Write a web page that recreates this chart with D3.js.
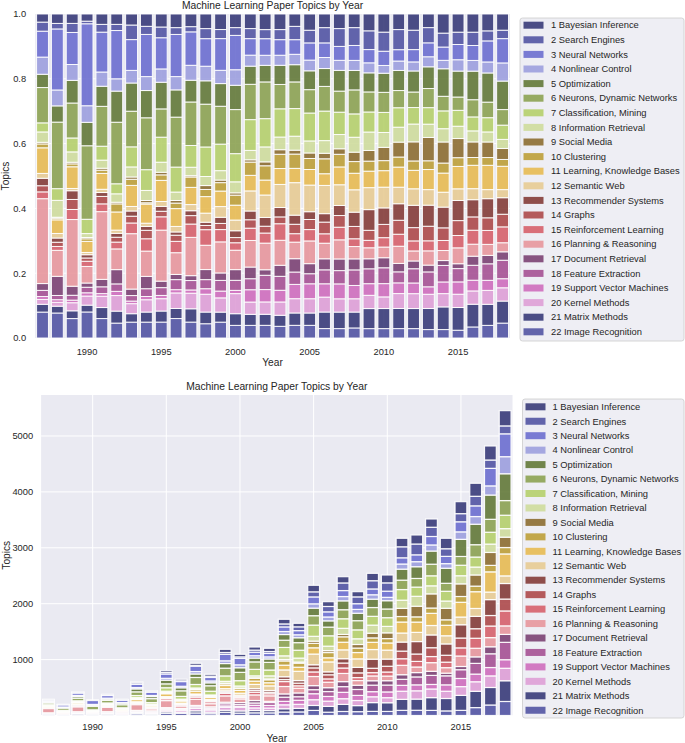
<!DOCTYPE html>
<html><head><meta charset="utf-8">
<script src="https://cdn.jsdelivr.net/npm/d3@7"></script>
<style>
body{margin:0;background:#fff;}
svg{display:block;font-family:"Liberation Sans",Arial,Helvetica,sans-serif;}
</style></head><body>
<svg id="chart" width="685" height="743"></svg>
<script>
// ---------------- DATA ----------------
const years = [1987,1988,1989,1990,1991,1992,1993,1994,1995,1996,1997,1998,1999,2000,2001,2002,
               2003,2004,2005,2006,2007,2008,2009,2010,2011,2012,2013,2014,2015,2016,2017,2018];
const tickYears = [1990,1995,2000,2005,2010,2015];
const topics = ["1 Bayesian Inference","2 Search Engines","3 Neural Networks","4 Nonlinear Control",
  "5 Optimization","6 Neurons, Dynamic Networks","7 Classification, Mining","8 Information Retrieval",
  "9 Social Media","10 Clustering","11 Learning, Knowledge Bases","12 Semantic Web",
  "13 Recommender Systems","14 Graphs","15 Reinforcement Learning","16 Planning & Reasoning",
  "17 Document Retrieval","18 Feature Extraction","19 Support Vector Machines","20 Kernel Methods",
  "21 Matrix Methods","22 Image Recognition"];
// total number of topic assignments per year (bottom panel)
const totals = [290,200,426,277,379,290,605,444,801,648,934,737,1184,1095,1225,1202,
                1721,1649,2329,2036,2483,2215,2543,2513,3170,3229,3515,3170,3825,4154,4821,5453];
// share of each topic per year, in percent (top panel)
const bayesian      = [2.5,2.9,2.9,2.2,3.2,3.2,3.4,3.8,4.0,4.2,3.9,4.5,4.8,4.2,4.5,4.8,4.8,3.8,5.0,4.2,4.5,4.2,5.2,5.6,4.8,5.0,4.2,5.9,5.6,5.6,5.2,5.0];
const searchEngines = [2.8,1.7,2.8,0.8,2.4,1.9,4.5,2.5,3.3,2.1,1.6,3.1,2.8,2.4,3.1,2.8,3.1,4.1,3.9,4.7,5.5,5.5,5.8,5.9,6.2,6.0,4.7,4.3,3.8,4.1,3.1,2.6];
const neuralNets    = [8.0,18.8,9.9,25.2,12.3,14.9,9.5,13.0,9.6,13.0,10.3,8.5,9.8,10.6,5.1,5.1,4.8,4.5,5.3,4.5,4.3,4.6,4.1,4.4,3.5,3.8,4.3,4.1,4.7,4.6,6.5,7.5];
const nonlinearCtrl = [5.3,4.9,4.9,5.1,4.4,3.8,3.9,4.3,4.1,4.1,4.6,4.5,4.1,4.8,3.4,3.1,3.1,3.2,3.3,3.4,3.1,3.1,3.1,2.4,2.9,2.8,3.1,2.6,3.5,3.3,3.4,5.6];
const optimization  = [4.1,5.0,7.0,7.2,6.2,9.6,8.7,8.4,8.2,8.4,6.7,7.2,7.0,7.5,5.6,5.1,5.9,5.3,5.8,5.5,6.4,6.0,5.9,5.9,6.2,6.5,6.7,8.5,8.0,8.8,9.0,8.8];
const neurons       = [10.9,20.5,10.8,22.6,12.3,19.0,11.0,16.0,8.7,15.4,13.4,13.2,11.7,13.6,10.9,11.3,7.5,8.2,7.2,7.6,6.5,7.4,6.2,6.2,5.3,4.8,5.9,4.5,4.1,5.3,4.8,4.8];
const classification= [2.8,3.6,4.3,4.4,4.3,3.1,6.2,6.4,7.7,7.7,6.7,9.1,8.2,8.7,9.5,8.7,8.7,8.5,8.6,9.1,6.9,7.2,6.2,6.2,6.0,5.1,5.1,5.5,4.9,4.3,4.4,4.4];
const infoRetrieval = [3.2,5.2,3.2,1.2,2.5,2.6,3.1,3.1,3.1,2.6,2.6,2.8,2.9,3.4,2.9,4.6,3.9,4.3,3.7,3.9,4.4,4.6,5.7,4.6,4.6,5.5,4.1,4.1,3.8,3.4,3.1,2.8];
const socialMedia   = [0.5,0.3,0.5,0.4,0.6,0.5,0.7,0.7,0.8,0.8,0.4,1.2,0.8,0.7,0.7,1.2,1.4,1.2,1.7,1.7,1.7,2.9,3.3,4.1,4.6,5.9,7.2,6.5,5.9,4.8,4.8,3.4];
const clustering    = [1.2,0.5,0.9,0.8,1.0,2.5,1.9,0.4,1.7,1.7,3.2,2.2,2.6,3.1,4.1,4.4,4.4,4.4,3.4,4.6,3.9,3.6,3.1,3.1,3.1,2.9,2.7,3.1,2.7,2.4,2.4,2.1];
const learningKB    = [7.9,4.2,6.7,3.4,4.9,5.6,6.5,5.9,6.5,5.5,5.3,5.1,4.8,4.6,4.8,4.6,4.9,4.4,4.8,3.6,5.5,5.1,5.1,5.1,6.2,5.7,6.2,5.9,6.9,7.2,7.5,7.2];
const semanticWeb   = [1.5,1.4,0.7,0.7,1.0,1.0,1.4,1.0,1.5,1.7,1.9,2.8,3.3,3.3,6.2,6.9,7.1,10.0,8.2,8.7,6.4,6.9,6.8,6.4,5.1,5.1,4.8,4.6,3.6,3.4,2.8,2.5];
const recommender   = [2.3,1.3,2.7,1.0,1.2,1.2,1.6,1.2,1.5,1.0,1.5,1.0,1.9,2.1,2.7,2.7,2.9,2.8,2.4,2.6,3.1,4.4,6.4,5.1,5.1,6.9,6.5,6.4,6.2,5.3,5.9,5.1];
const graphs        = [1.9,1.3,3.1,1.0,2.3,1.5,2.1,2.6,1.7,1.9,2.6,1.3,1.9,1.6,2.6,2.1,2.1,2.9,3.1,3.6,3.6,3.8,3.1,4.1,4.3,4.1,4.5,3.9,4.6,4.1,3.9,3.9];
const reinforcement = [2.1,1.2,3.1,1.6,2.4,2.1,3.3,3.8,4.1,3.5,4.1,4.8,3.8,2.3,3.8,3.1,5.1,2.6,3.5,2.9,3.9,2.4,2.3,2.9,3.7,3.1,3.1,3.1,3.8,4.3,4.3,4.9];
const planning      = [26.2,8.0,20.6,5.1,20.9,6.4,17.1,7.8,15.7,6.7,11.8,7.5,9.6,6.0,8.2,8.2,7.7,5.1,7.0,4.8,5.9,3.8,3.4,3.3,5.3,3.1,4.4,3.1,4.9,3.7,3.4,2.8];
const docRetrieval  = [2.1,5.9,2.8,1.3,2.3,4.4,2.0,3.8,2.0,1.6,1.5,3.1,2.3,3.3,3.6,1.7,3.4,4.1,3.1,3.4,3.6,3.4,3.1,3.1,2.6,2.4,2.1,1.5,1.5,2.8,2.6,2.6];
const featureExtr   = [1.9,1.3,1.5,1.7,2.1,2.3,1.7,2.4,2.4,3.1,2.9,2.8,3.3,3.1,3.4,4.4,4.3,3.8,3.1,4.3,4.1,4.8,4.6,4.9,3.4,4.4,4.6,5.1,4.1,4.6,5.1,5.7];
const svm           = [0.9,0.8,0.8,1.0,0.8,1.3,0.8,1.0,1.0,1.0,1.0,1.7,2.1,1.0,3.8,3.8,3.6,4.4,4.6,4.1,4.6,4.1,3.6,4.1,3.3,3.3,2.3,3.6,3.8,3.3,3.1,2.8];
const kernel        = [1.5,1.2,2.5,2.8,3.5,4.8,3.1,3.8,3.8,4.8,4.8,5.5,4.4,6.2,3.8,3.8,4.1,4.4,4.4,4.6,4.1,4.1,4.1,3.6,4.6,4.6,4.4,4.1,4.1,4.1,4.3,4.1];
const matrixMethods = [2.4,2.1,2.4,2.1,3.4,3.7,2.6,3.1,3.4,3.1,4.1,3.6,3.1,3.6,3.4,3.4,3.4,3.8,3.8,5.1,5.1,4.9,6.2,6.2,6.2,6.2,6.5,7.0,7.0,7.0,6.5,6.8];
const imageRecog    = [8.0,7.7,6.0,8.0,6.0,4.6,4.9,4.9,4.9,6.0,4.9,4.4,4.9,3.9,3.9,3.9,3.6,3.9,3.9,2.9,2.9,3.1,2.9,2.9,2.9,2.9,2.6,2.6,2.4,3.4,3.9,4.6];

const series = [bayesian,searchEngines,neuralNets,nonlinearCtrl,optimization,neurons,classification,
  infoRetrieval,socialMedia,clustering,learningKB,semanticWeb,recommender,graphs,reinforcement,
  planning,docRetrieval,featureExtr,svm,kernel,matrixMethods,imageRecog];

// tab20b palette (cycles for topics 21, 22)
const palette = ["#393b79","#5254a3","#6b6ecf","#9c9ede","#637939","#8ca252","#b5cf6b","#cedb9c",
  "#8c6d31","#bd9e39","#e7ba52","#e7cb94","#843c39","#ad494a","#d6616b","#e7969c",
  "#7b4173","#a55194","#ce6dbd","#de9ed6"];
const colorOf = k => palette[k % palette.length];

// ---------------- TABLES ----------------
const propRows = years.map((yr, i) => {
  const sum = d3.sum(series, s => s[i]);
  const r = {year: yr};
  series.forEach((s, k) => r[k] = s[i] / sum);
  return r;
});
const countRows = years.map((yr, i) => {
  const r = {year: yr};
  series.forEach((s, k) => r[k] = propRows[i][k] * totals[i]);
  return r;
});
const keys = d3.range(series.length).reverse(); // topic 22 at the bottom, topic 1 on top

// ---------------- DRAW ----------------
const svg = d3.select("#chart");
const TXT = "#262626";
const BG = "#EAEAF2";

function panel(cfg) {
  const g = svg.append("g");
  const x = d3.scaleBand().domain(years).range([cfg.left, cfg.right]).paddingInner(0.2).paddingOuter(0.1);
  const y = d3.scaleLinear().domain(cfg.yDomain).range([cfg.bottom, cfg.top]);

  g.append("rect").attr("x", cfg.left).attr("y", cfg.top)
    .attr("width", cfg.right - cfg.left).attr("height", cfg.bottom - cfg.top).attr("fill", BG);

  // grid
  g.append("g").selectAll("line.v").data(tickYears).join("line")
    .attr("x1", d => x(d) + x.bandwidth()/2).attr("x2", d => x(d) + x.bandwidth()/2)
    .attr("y1", cfg.top).attr("y2", cfg.bottom).attr("stroke", "#fff").attr("stroke-width", 1);
  g.append("g").selectAll("line.h").data(cfg.gridY).join("line")
    .attr("x1", cfg.left).attr("x2", cfg.right)
    .attr("y1", d => y(d)).attr("y2", d => y(d)).attr("stroke", "#fff").attr("stroke-width", 1);

  // bars
  const stacked = d3.stack().keys(keys)(cfg.rows);
  g.append("g").selectAll("g").data(stacked).join("g")
    .attr("fill", s => colorOf(s.key))
    .selectAll("rect").data(s => s).join("rect")
      .attr("x", d => x(d.data.year)).attr("width", x.bandwidth())
      .attr("y", d => y(d[1])).attr("height", d => Math.max(0, y(d[0]) - y(d[1])))
      .attr("fill-opacity", 0.9)
      .attr("stroke", "#fff").attr("stroke-opacity", 0.9).attr("stroke-width", cfg.sw);

  // axes
  const xa = g.append("g").attr("transform", `translate(0,${cfg.bottom})`)
    .call(d3.axisBottom(x).tickValues(tickYears).tickSize(0).tickPadding(cfg.xPad));
  const ya = g.append("g").attr("transform", `translate(${cfg.left},0)`)
    .call(d3.axisLeft(y).tickValues(cfg.yTicks).tickFormat(cfg.yFmt).tickSize(0).tickPadding(cfg.yPad));
  [xa, ya].forEach(a => {
    a.select(".domain").remove();
    a.selectAll("text").attr("fill", TXT).style("font-size", "9.3px")
      .style("font-family", '"Liberation Sans",Arial,sans-serif');
  });

  // labels
  const cx = (cfg.left + cfg.right) / 2;
  g.append("text").attr("x", cx).attr("y", cfg.titleY).attr("text-anchor", "middle")
    .attr("fill", TXT).style("font-size", "10.3px").text("Machine Learning Paper Topics by Year");
  g.append("text").attr("x", cx).attr("y", cfg.xLabelY).attr("text-anchor", "middle")
    .attr("fill", TXT).style("font-size", "10.2px").text("Year");
  g.append("text").attr("transform", `translate(${cfg.yLabelX},${(cfg.top + cfg.bottom)/2}) rotate(-90)`)
    .attr("text-anchor", "middle").attr("fill", TXT).style("font-size", "10.2px").text("Topics");

  // legend
  const L = cfg.legend;
  g.append("rect").attr("x", L.x).attr("y", L.y).attr("width", L.w).attr("height", L.h)
    .attr("rx", 2.5).attr("fill", "#EEEEF4").attr("stroke", "#cccccc").attr("stroke-width", 0.8);
  const items = g.append("g").selectAll("g").data(topics).join("g")
    .attr("transform", (d, i) => `translate(0,${L.firstY + i * L.step})`);
  items.append("rect").attr("x", L.swX).attr("y", -3.5).attr("width", 20).attr("height", 7)
    .attr("fill", (d, i) => colorOf(i)).attr("fill-opacity", 0.9);
  items.append("text").attr("x", L.textX).attr("y", 0).attr("dy", "0.35em")
    .attr("fill", TXT).style("font-size", "9.35px").text(d => d);
}

panel({
  rows: propRows, left: 35.1, right: 510, top: 14, bottom: 338,
  yDomain: [0, 1], yTicks: [0, 0.2, 0.4, 0.6, 0.8, 1.0], gridY: [0.2, 0.4, 0.6, 0.8],
  yFmt: d3.format(".1f"), sw: 1, xPad: 10.5, yPad: 9,
  titleY: 9.3, xLabelY: 366.3, yLabelX: 8.6,
  legend: {x: 520, y: 18, w: 164, h: 323, firstY: 25.2, step: 14.6, swX: 523.5, textX: 551}
});

panel({
  rows: countRows, left: 41.1, right: 512.5, top: 395, bottom: 715.5,
  yDomain: [0, 5733], yTicks: [1000, 2000, 3000, 4000, 5000], gridY: [0, 1000, 2000, 3000, 4000, 5000],
  yFmt: d3.format("d"), sw: 1.2, xPad: 8, yPad: 8,
  titleY: 389.8, xLabelY: 742.3, yLabelX: 10,
  legend: {x: 522.5, y: 399, w: 161.5, h: 319, firstY: 406.8, step: 14.45, swX: 525.5, textX: 552.5}
});
</script>
</body></html>
